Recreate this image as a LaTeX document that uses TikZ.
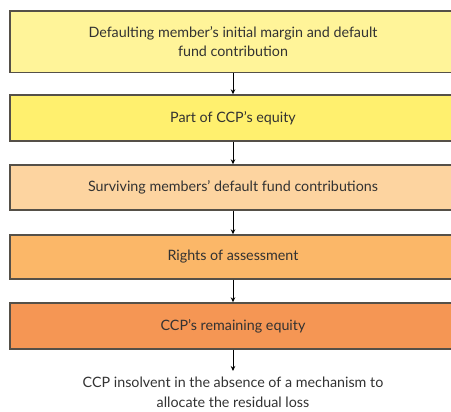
\documentclass[tikz,border=0pt]{standalone}
\usepackage{fontspec}
\setmainfont{Lato}
\usetikzlibrary{arrows.meta}
\definecolor{cA}{RGB}{255,244,153}
\definecolor{cB}{RGB}{255,240,110}
\definecolor{cC}{RGB}{253,212,160}
\definecolor{cD}{RGB}{251,183,104}
\definecolor{cE}{RGB}{245,150,84}
\definecolor{edge}{RGB}{85,80,72}
\definecolor{txt}{RGB}{50,50,50}
\tikzset{
  stagebox/.style={draw=edge, line width=1.4pt, minimum width=446pt, inner sep=0pt,
    align=center, text=txt, font=\fontsize{14.3}{19.5}\selectfont},
  flowarrow/.style={-{Stealth[length=5pt,width=4.5pt]}, line width=0.8pt, black}
}
\begin{document}
\begin{tikzpicture}[x=1pt,y=-1pt]
\useasboundingbox (0,0) rectangle (451,412);
\clip (0,0) rectangle (451,412);
\node[stagebox, fill=cA, minimum height=61.5pt] (b1) at (233,41.75) {Defaulting member’s initial margin and default\\fund contribution};
\node[stagebox, fill=cB, minimum height=46pt] (b2) at (233,118) {Part of CCP’s equity};
\node[stagebox, fill=cC, minimum height=45pt] (b3) at (233,187.5) {Surviving members’ default fund contributions};
\node[stagebox, fill=cD, minimum height=44pt] (b4) at (233,257) {Rights of assessment};
\node[stagebox, fill=cE, minimum height=46pt] (b5) at (233,326) {CCP’s remaining equity};
\node[align=center, text=txt, font=\fontsize{14.3}{19.5}\selectfont, inner sep=0pt] (end) at (233,392.5) {CCP insolvent in the absence of a mechanism to\\allocate the residual loss};
\coordinate (endtip) at (233,371);
\draw[flowarrow] (b1.south) -- (b2.north);
\draw[flowarrow] (b2.south) -- (b3.north);
\draw[flowarrow] (b3.south) -- (b4.north);
\draw[flowarrow] (b4.south) -- (b5.north);
\draw[flowarrow] (b5.south) -- (endtip);
\end{tikzpicture}
\end{document}
